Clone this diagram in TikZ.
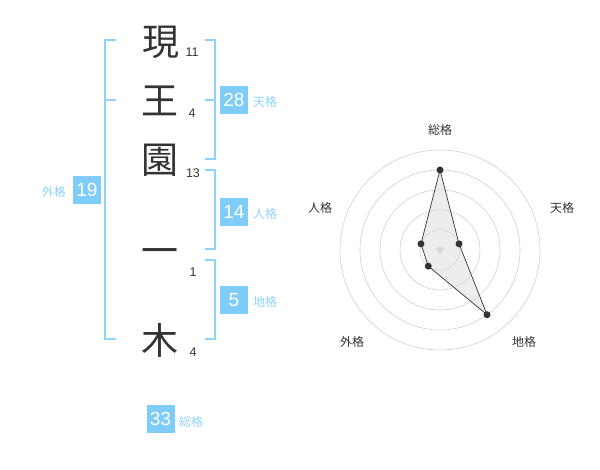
\documentclass[tikz,border=0pt]{standalone}
\usepackage{fontspec}
\setmainfont{Noto Sans CJK JP}
\newfontfamily\numfont{Liberation Sans}
\definecolor{skyb}{HTML}{80CCF8}
\definecolor{skyl}{HTML}{8DD2F8}
\definecolor{ink}{HTML}{333333}
\definecolor{ring}{HTML}{D0D0D0}
\begin{document}
\begin{tikzpicture}[x=1pt,y=-1pt,
  kanji/.style={font=\fontsize{37}{37}\selectfont, text=ink, inner sep=0pt},
  strokes/.style={font=\numfont\fontsize{12.5}{12.5}\selectfont, text=ink, inner sep=0pt},
  valbox/.style={fill=skyb, text=white, minimum width=28pt, minimum height=28pt, inner sep=0pt, font=\numfont\fontsize{19}{19}\selectfont},
  kaku/.style={text=skyl, font=\fontsize{12}{12}\selectfont, inner sep=0pt},
  brack/.style={draw=skyl, line width=1.8pt},
  rlabel/.style={text=ink, font=\fontsize{12}{12}\selectfont, inner sep=0pt},
  ringc/.style={draw=ring, line width=0.6pt},
  dot/.style={circle, fill=ink, inner sep=0pt, minimum size=7pt}]
\useasboundingbox (0,0) rectangle (600,470);
% characters
\node[kanji] (c1) at (161,42) {現};
\node[kanji] (c2) at (160,101) {王};
\node[kanji] (c3) at (160,160) {園};
\node[kanji] (c4) at (160,257) {一};
\node[kanji] (c5) at (160,340) {木};
\node[strokes] (n1) at (192,52) {11};
\node[strokes] (n2) at (192,113) {4};
\node[strokes] (n3) at (193,173) {13};
\node[strokes] (n4) at (193,272) {1};
\node[strokes] (n5) at (193,352) {4};
% left bracket (外格)
\draw[brack] (116,40) -- (105,40) -- (105,339) -- (116,339);
\draw[brack] (105,100) -- (116,100);
% right brackets
\draw[brack] (205,40) -- (215,40) -- (215,159) -- (205,159);
\draw[brack] (205,100) -- (215,100);
\draw[brack] (205,170) -- (215,170) -- (215,249) -- (205,249);
\draw[brack] (205,260) -- (215,260) -- (215,339) -- (205,339);
% value boxes
\node[valbox] (b28) at (234,100) {28};
\node[kaku, anchor=west] (k28) at (253,102) {天格};
\node[valbox] (b14) at (234,212) {14};
\node[kaku, anchor=west] (k14) at (253,214) {人格};
\node[valbox] (b5) at (234,300) {5};
\node[kaku, anchor=west] (k5) at (253,302) {地格};
\node[valbox] (b19) at (87,190) {19};
\node[kaku, anchor=east] (k19) at (66,192) {外格};
\node[valbox] (b33) at (160.5,419) {33};
\node[kaku, anchor=west] (k33) at (179,422) {総格};
% radar
\coordinate (o) at (440,250);
\foreach \r in {20,40,60,80,100} \draw[ringc] (o) circle[radius=\r];
\fill[ring] (o) circle[radius=3.5];
\path (o) ++(0,-80) coordinate (pS);
\path (o) ++({20*cos(18)},{-20*sin(18)}) coordinate (pT);
\path (o) ++({80*cos(-54)},{-80*sin(-54)}) coordinate (pC);
\path (o) ++({20*cos(-126)},{-20*sin(-126)}) coordinate (pG);
\path (o) ++({20*cos(162)},{-20*sin(162)}) coordinate (pJ);
\filldraw[fill=gray!25, fill opacity=0.55, draw=ink, line width=0.7pt] (pS) -- (pT) -- (pC) -- (pG) -- (pJ) -- cycle;
\foreach \p in {pS,pT,pC,pG,pJ} \node[dot] at (\p) {};
\node[rlabel] (lS) at (440,130) {総格};
\node[rlabel] (lT) at (562,208) {天格};
\node[rlabel] (lJ) at (320,208) {人格};
\node[rlabel] (lG) at (352,342) {外格};
\node[rlabel] (lC) at (524,342) {地格};
\end{tikzpicture}
\end{document}
